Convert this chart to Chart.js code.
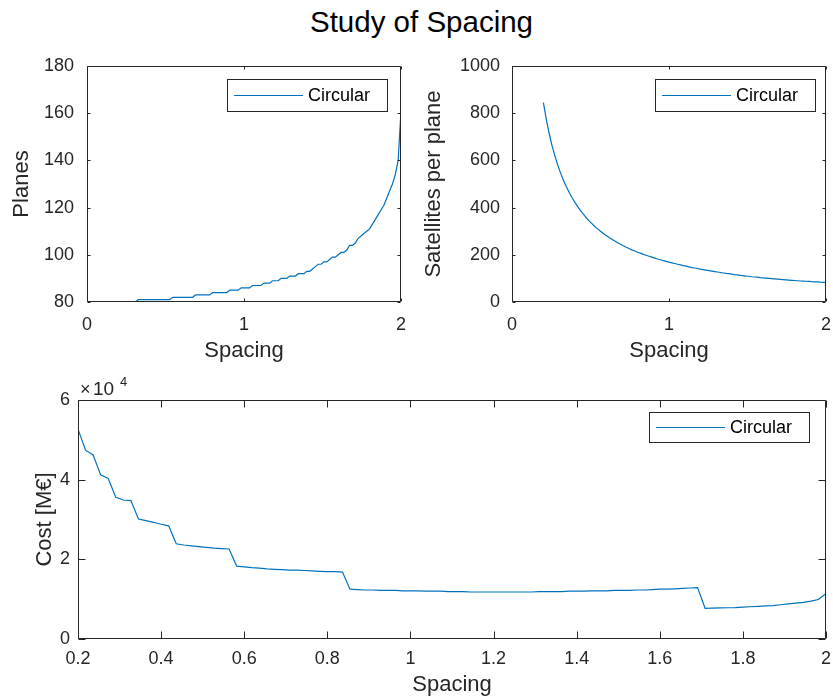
<!DOCTYPE html>
<html>
<head>
<meta charset="utf-8">
<title>Study of Spacing</title>
<script src="https://cdn.jsdelivr.net/npm/chart.js@4"></script>
<style>
  html, body { margin: 0; padding: 0; background: #fff; }
  #page { position: relative; width: 833px; height: 700px; overflow: hidden; background: #fff; }
  #page canvas { position: absolute; }
  #suptitle {
    position: absolute; left: 0; top: 7px; width: 843px; text-align: center;
    font: 29.5px/29px "Liberation Sans", Arial, sans-serif; color: #000;
  }
</style>
</head>
<body>
<div id="page">
  <div id="suptitle">Study of Spacing</div>
  <canvas id="cPlanes" width="420" height="380" style="left:0;top:0"></canvas>
  <canvas id="cSats" width="413" height="380" style="left:420px;top:0"></canvas>
  <canvas id="cCost" width="833" height="330" style="left:0;top:370px"></canvas>
</div>
<script>
// Orbital spacing sweep (100 samples from 0.2 to 2)
const spacing = [
  0.2000, 0.2182, 0.2364, 0.2545, 0.2727, 0.2909, 0.3091, 0.3273, 0.3455, 0.3636,
  0.3818, 0.4000, 0.4182, 0.4364, 0.4545, 0.4727, 0.4909, 0.5091, 0.5273, 0.5455,
  0.5636, 0.5818, 0.6000, 0.6182, 0.6364, 0.6545, 0.6727, 0.6909, 0.7091, 0.7273,
  0.7455, 0.7636, 0.7818, 0.8000, 0.8182, 0.8364, 0.8545, 0.8727, 0.8909, 0.9091,
  0.9273, 0.9455, 0.9636, 0.9818, 1.0000, 1.0182, 1.0364, 1.0545, 1.0727, 1.0909,
  1.1091, 1.1273, 1.1455, 1.1636, 1.1818, 1.2000, 1.2182, 1.2364, 1.2545, 1.2727,
  1.2909, 1.3091, 1.3273, 1.3455, 1.3636, 1.3818, 1.4000, 1.4182, 1.4364, 1.4545,
  1.4727, 1.4909, 1.5091, 1.5273, 1.5455, 1.5636, 1.5818, 1.6000, 1.6182, 1.6364,
  1.6545, 1.6727, 1.6909, 1.7091, 1.7273, 1.7455, 1.7636, 1.7818, 1.8000, 1.8182,
  1.8364, 1.8545, 1.8727, 1.8909, 1.9091, 1.9273, 1.9455, 1.9636, 1.9818, 2.0000
];

// Number of orbital planes
const planes = [
  80, 80, 80, 80, 80, 80, 80, 81, 81, 81,
  81, 81, 81, 81, 81, 81, 81, 81, 81, 82,
  82, 82, 82, 82, 82, 82, 82, 83, 83, 83,
  83, 83, 83, 84, 84, 84, 84, 84, 84, 85,
  85, 85, 85, 86, 86, 86, 86, 87, 87, 87,
  87, 88, 88, 88, 89, 89, 89, 90, 90, 90,
  91, 91, 91, 92, 92, 92, 93, 93, 94, 95,
  96, 96, 97, 97, 98, 99, 99, 100, 101, 101,
  102, 104, 104, 105, 107, 108, 109, 110, 111, 113,
  115, 117, 119, 121, 124, 127, 130, 134, 140, 161
];

// Satellites in each plane
const satsPerPlane = [
  845, 775, 715, 664, 620, 581, 547, 516, 489, 465,
  443, 423, 404, 387, 372, 357, 344, 332, 320, 310,
  300, 290, 282, 273, 266, 258, 251, 245, 238, 232,
  227, 221, 216, 211, 207, 202, 198, 194, 190, 186,
  182, 179, 175, 172, 169, 166, 163, 160, 157, 154,
  152, 149, 146, 144, 142, 139, 137, 135, 133, 131,
  129, 127, 125, 123, 121, 120, 118, 116, 115, 113,
  112, 110, 109, 107, 106, 105, 103, 102, 101, 100,
  99, 98, 97, 96, 95, 94, 93, 92, 91, 90,
  89, 88.5, 88, 87, 86, 85.5, 85, 84, 83.5, 83
];

// Constellation cost in M€
const costMEUR = [
  52700, 47400, 46200, 41200, 40300, 35600, 34900, 34750, 30100, 29700,
  29300, 28800, 28400, 23900, 23600, 23400, 23200, 23000, 22800, 22700,
  22600, 18300, 18100, 17900, 17800, 17600, 17500, 17400, 17300, 17300,
  17200, 17100, 17000, 16900, 16900, 16800, 12500, 12400, 12300, 12300,
  12200, 12200, 12200, 12100, 12100, 12100, 12000, 12000, 12000, 11900,
  11900, 11900, 11800, 11800, 11800, 11800, 11800, 11800, 11800, 11800,
  11800, 11900, 11900, 11900, 11900, 12000, 12000, 12000, 12100, 12100,
  12100, 12200, 12200, 12200, 12300, 12300, 12400, 12500, 12500, 12600,
  12700, 12800, 12900, 7700, 7750, 7800, 7850, 7900, 8000, 8100,
  8200, 8300, 8400, 8600, 8800, 9000, 9200, 9500, 9900, 11400
];

// Axis ranges: [min, max, step]
const planesXAxis = [0, 2, 1];
const planesYAxis = [80, 180, 20];
const satsXAxis = [0, 2, 1];
const satsYAxis = [0, 1000, 200];
const costXAxis = [0.2, 2, 0.2];
const costYAxis = [0, 60000, 20000];
const costExponent = 4;

const seriesName = 'Circular';
const LINE_BLUE = '#0072BD';
const AXIS_GRAY = '#262626';
const FONT = '"Liberation Sans", Arial, sans-serif';

// Boxed axes with inward tick marks on all four sides
const boxAndTicks = {
  id: 'boxAndTicks',
  afterDatasetsDraw(chart, args, opts) {
    const { ctx, chartArea: a, scales } = chart;
    const len = opts.tickLen;
    const L = Math.round(a.left) + 0.5, R = Math.round(a.right) - 0.5;
    const T = Math.round(a.top) + 0.5, B = Math.round(a.bottom) - 0.5;
    ctx.save();
    ctx.strokeStyle = AXIS_GRAY;
    ctx.lineWidth = 1;
    ctx.beginPath();
    ctx.rect(L, T, R - L, B - T);
    scales.x.ticks.forEach(t => {
      const px = Math.round(scales.x.getPixelForValue(t.value)) + 0.5;
      ctx.moveTo(px, B); ctx.lineTo(px, B - len);
      ctx.moveTo(px, T); ctx.lineTo(px, T + len);
    });
    scales.y.ticks.forEach(t => {
      const py = Math.round(scales.y.getPixelForValue(t.value)) + 0.5;
      ctx.moveTo(L, py); ctx.lineTo(L + len, py);
      ctx.moveTo(R, py); ctx.lineTo(R - len, py);
    });
    ctx.stroke();
    ctx.restore();
  }
};

// Legend box in the upper right corner of the plot area
const boxLegend = {
  id: 'boxLegend',
  afterDraw(chart, args, opts) {
    const { ctx, chartArea: a } = chart;
    const ds = chart.data.datasets[0];
    ctx.save();
    ctx.font = '18px ' + FONT;
    const tw = ctx.measureText(ds.label).width;
    const w = Math.round(81 + tw + 17), h = opts.height;
    const x = Math.round(a.right - opts.right - w), y = Math.round(a.top + opts.top);
    ctx.fillStyle = '#fff';
    ctx.fillRect(x, y, w, h);
    ctx.strokeStyle = AXIS_GRAY;
    ctx.lineWidth = 1;
    ctx.strokeRect(x + 0.5, y + 0.5, w, h);
    ctx.strokeStyle = ds.borderColor;
    ctx.lineWidth = ds.borderWidth;
    ctx.beginPath();
    ctx.moveTo(x + 7, y + h / 2 + 0.5);
    ctx.lineTo(x + 76, y + h / 2 + 0.5);
    ctx.stroke();
    ctx.fillStyle = '#000';
    ctx.textBaseline = 'middle';
    ctx.textAlign = 'left';
    ctx.fillText(ds.label, x + 81, y + h / 2 + 1);
    ctx.restore();
  }
};

// Common power-of-ten multiplier above the y axis
const axisExponent = {
  id: 'axisExponent',
  afterDraw(chart, args, opts) {
    if (!opts.power) return;
    const { ctx, chartArea: a } = chart;
    ctx.save();
    ctx.fillStyle = AXIS_GRAY;
    ctx.textBaseline = 'alphabetic';
    ctx.textAlign = 'left';
    ctx.font = '18px ' + FONT;
    ctx.fillText('\u00d7', a.left + 2, a.top - 5);
    ctx.font = '19px ' + FONT;
    ctx.fillText('10', a.left + 15, a.top - 5);
    ctx.font = '13px ' + FONT;
    ctx.fillText(String(opts.power), a.left + 42, a.top - 14);
    ctx.restore();
  }
};

function points(ys) {
  return spacing.map((s, i) => ({ x: s, y: ys[i] }));
}

function makeChart(id, cfg) {
  const tickFont = { family: FONT, size: 18 };
  const titleFont = { family: FONT, size: 22 };
  return new Chart(document.getElementById(id), {
    type: 'line',
    data: {
      datasets: [{
        label: seriesName,
        data: points(cfg.values),
        borderColor: LINE_BLUE,
        backgroundColor: LINE_BLUE,
        borderWidth: 1.2,
        pointRadius: 0,
        tension: 0,
        fill: false
      }]
    },
    options: {
      responsive: false,
      animation: false,
      devicePixelRatio: 1,
      layout: { padding: cfg.padding },
      plugins: {
        legend: { display: false },
        tooltip: { enabled: false },
        boxAndTicks: { tickLen: cfg.tickLen },
        boxLegend: cfg.legend,
        axisExponent: { power: cfg.power || 0 }
      },
      scales: {
        x: {
          type: 'linear',
          min: cfg.xAxis[0], max: cfg.xAxis[1],
          afterFit(s) { s.height = cfg.xHeight; s.paddingLeft = 0; s.paddingRight = 0; },
          grid: { display: false, drawTicks: false },
          border: { display: false },
          ticks: {
            stepSize: cfg.xAxis[2], color: AXIS_GRAY, font: tickFont,
            padding: cfg.xPad, maxRotation: 0, autoSkip: false,
            callback: v => String(Number(v.toFixed(1)))
          },
          title: {
            display: true, text: 'Spacing', color: AXIS_GRAY, font: titleFont,
            padding: { top: 0, bottom: cfg.xTitlePad }
          }
        },
        y: {
          type: 'linear',
          min: cfg.yAxis[0], max: cfg.yAxis[1],
          afterFit(s) { s.width = cfg.yWidth; s.paddingTop = 0; s.paddingBottom = 0; },
          grid: { display: false, drawTicks: false },
          border: { display: false },
          ticks: {
            stepSize: cfg.yAxis[2], color: AXIS_GRAY, font: tickFont,
            padding: cfg.yPad,
            callback: cfg.yLabel || (v => String(v))
          },
          title: {
            display: true, text: cfg.yTitle, color: AXIS_GRAY, font: titleFont,
            padding: { top: cfg.yTitlePad, bottom: 0 }
          }
        }
      }
    },
    plugins: [boxAndTicks, boxLegend, axisExponent]
  });
}

makeChart('cPlanes', {
  values: planes, xAxis: planesXAxis, yAxis: planesYAxis, yTitle: 'Planes',
  padding: { top: 66, right: 19, left: 0, bottom: 0 },
  xHeight: 78, yWidth: 87, xPad: 12, yPad: 13, xTitlePad: 16, yTitlePad: 9,
  tickLen: 3, legend: { right: 14, top: 13, height: 32 }
});

makeChart('cSats', {
  values: satsPerPlane, xAxis: satsXAxis, yAxis: satsYAxis, yTitle: 'Satellites per plane',
  padding: { top: 66, right: 7, left: 0, bottom: 0 },
  xHeight: 78, yWidth: 92, xPad: 12, yPad: 12, xTitlePad: 16, yTitlePad: 1,
  tickLen: 3, legend: { right: 11, top: 13, height: 32 }
});

makeChart('cCost', {
  values: costMEUR, xAxis: costXAxis, yAxis: costYAxis, yTitle: 'Cost [M\u20ac]',
  padding: { top: 30, right: 7, left: 0, bottom: 0 },
  xHeight: 61, yWidth: 78, xPad: 9, yPad: 8, xTitlePad: 2, yTitlePad: 32,
  tickLen: 7, legend: { right: 17, top: 12, height: 30 },
  power: costExponent,
  yLabel: v => String(v / Math.pow(10, costExponent))
});
</script>
</body>
</html>
